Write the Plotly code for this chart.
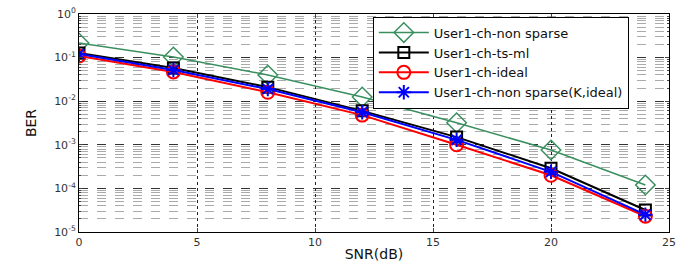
import plotly.graph_objects as go

snr = [0, 4, 8, 12, 16, 20, 24]
ber_non_sparse = [0.216, 0.103, 0.040, 0.0125, 0.0032, 7.6e-4, 1.2e-4]
ber_ts_ml = [0.128, 0.058, 0.021, 0.0060, 0.0015, 2.9e-4, 3.2e-5]
ber_ideal = [0.109, 0.047, 0.016, 0.0048, 0.0010, 2.0e-4, 2.3e-5]
ber_non_sparse_k = [0.121, 0.052, 0.019, 0.0056, 0.0013, 2.4e-4, 2.5e-5]

names = ["User1-ch-non sparse", "User1-ch-ts-ml", "User1-ch-ideal", "User1-ch-non sparse(K,ideal)"]
x_ticks = [0, 5, 10, 15, 20, 25]
y_tickvals = [1, 0.1, 0.01, 0.001, 1e-4, 1e-5]
y_ticktext = ["10<sup>0</sup>", "10<sup>-1</sup>", "10<sup>-2</sup>", "10<sup>-3</sup>", "10<sup>-4</sup>", "10<sup>-5</sup>"]

FONT = "Liberation Sans, Arial, sans-serif"
WIDE = "DejaVu Sans, Verdana, sans-serif"

fig = go.Figure()
fig.add_trace(go.Scatter(x=snr, y=ber_non_sparse, name=names[0], mode="lines+markers",
                         line=dict(color="#3a8f5e", width=1.5),
                         marker=dict(symbol="diamond-open", size=15, color="#3a8f5e", line=dict(width=1.5))))
fig.add_trace(go.Scatter(x=snr, y=ber_ts_ml, name=names[1], mode="lines+markers",
                         line=dict(color="#000000", width=2),
                         marker=dict(symbol="square-open", size=11, color="#000000", line=dict(width=2))))
fig.add_trace(go.Scatter(x=snr, y=ber_ideal, name=names[2], mode="lines+markers",
                         line=dict(color="#ff0000", width=2),
                         marker=dict(symbol="circle-open", size=13, color="#ff0000", line=dict(width=2))))
fig.add_trace(go.Scatter(x=snr, y=ber_non_sparse_k, name=names[3], mode="lines+markers",
                         line=dict(color="#0000ff", width=2),
                         marker=dict(symbol="asterisk-open", size=12, color="#0000ff", line=dict(width=2, color="#0000ff"))))

fig.update_layout(
    width=689, height=264,
    margin=dict(l=79, r=20, t=14, b=32),
    paper_bgcolor="white", plot_bgcolor="white",
    font=dict(family=FONT, size=11, color="#222"),
    showlegend=True,
    legend=dict(x=0.498, y=0.988, xanchor="left", yanchor="top",
                bgcolor="white", bordercolor="black", borderwidth=1,
                font=dict(family=WIDE, size=13, color="#111"),
                itemwidth=50, tracegroupgap=0),
    xaxis=dict(range=[0, 25], tickvals=x_ticks, ticks="inside", ticklen=4,
               showline=True, linecolor="black", linewidth=1, mirror="ticks",
               showgrid=True, gridcolor="#222", griddash="dot", gridwidth=1,
               zeroline=False, automargin=False, ticklabeloverflow="allow",
               tickfont=dict(family=WIDE, size=11, color="#333"),
               title=dict(text="SNR(dB)", font=dict(family=WIDE, size=14, color="#111"), standoff=0)),
    yaxis=dict(type="log", range=[-5, 0], tickvals=y_tickvals, ticktext=y_ticktext,
               ticks="inside", ticklen=4,
               showline=True, linecolor="black", linewidth=1, mirror="ticks",
               showgrid=True, gridcolor="#333", griddash="dash", gridwidth=1,
               zeroline=False, automargin=False, ticklabeloverflow="allow",
               minor=dict(showgrid=True, gridcolor="#aaaaaa", griddash="dash", gridwidth=1,
                          ticks="inside", ticklen=2, dtick="D1"),
               tickfont=dict(family=WIDE, size=11, color="#333"),
               title=dict(text="BER", font=dict(family=WIDE, size=14, color="#111"), standoff=14)),
)

# remove the page's default 8px body margin so the figure fills the window
fig.write_html("out.html", config={"displayModeBar": False},
               post_script="document.body.style.margin='0px';")
